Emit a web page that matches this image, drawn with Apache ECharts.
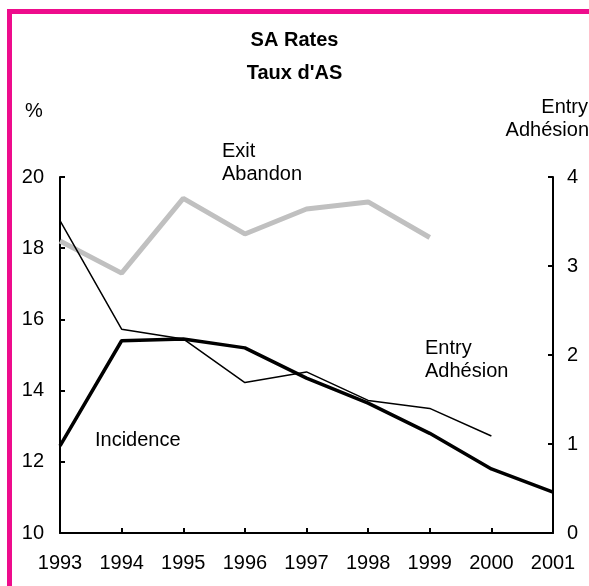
<!DOCTYPE html>
<html>
<head>
<meta charset="utf-8">
<style>
  html, body { margin: 0; padding: 0; background: #fff; }
  #chart { width: 589px; height: 586px; }
</style>
<script src="https://cdn.jsdelivr.net/npm/echarts@6/dist/echarts.min.js"></script>
</head>
<body>
<div id="chart"></div>
<script>
var years = ['1993', '1994', '1995', '1996', '1997', '1998', '1999', '2000', '2001']
// left axis, %
var exitRates = [18.2, 17.3, 19.4, 18.4, 19.1, 19.3, 18.3, null, null]
var incidence = [12.45, 15.4, 15.45, 15.2, 14.35, 13.65, 12.8, 11.8, 11.15]
// right axis
var entryRates = [3.51, 2.29, 2.18, 1.69, 1.81, 1.49, 1.4, 1.09, null]

var font = 'Liberation Sans, Arial, sans-serif'
var fs = 20
var myChart = echarts.init(document.getElementById('chart'))

function txt (text, x, y, align, bold) {
  return {
    type: 'text',
    x: x,
    y: y,
    silent: true,
    style: {
      text: text,
      font: (bold ? 'bold ' : '') + fs + 'px ' + font,
      fill: '#000',
      align: align || 'left',
      verticalAlign: 'middle'
    }
  }
}

var tickStyle = { show: true, inside: true, length: 5, lineStyle: { color: '#000', width: 2 } }
var lineAxis = { show: true, lineStyle: { color: '#000', width: 2 } }

var option = {
  backgroundColor: '#fff',
  animation: false,
  grid: { left: 60, right: 36, top: 177, bottom: 53 },
  xAxis: {
    type: 'category',
    data: years,
    boundaryGap: false,
    axisLine: lineAxis,
    axisTick: tickStyle,
    axisLabel: { color: '#000', fontSize: fs, fontFamily: font, margin: 20, interval: 0 }
  },
  yAxis: [
    {
      type: 'value', min: 10, max: 20, interval: 2, position: 'left',
      axisLine: lineAxis, axisTick: tickStyle, splitLine: { show: false },
      axisLabel: { color: '#000', fontSize: fs, fontFamily: font, margin: 16 }
    },
    {
      type: 'value', min: 0, max: 4, interval: 1, position: 'right',
      axisLine: lineAxis, axisTick: tickStyle, splitLine: { show: false },
      axisLabel: { color: '#000', fontSize: fs, fontFamily: font, margin: 14 }
    }
  ],
  series: [
    {
      name: 'Exit',
      type: 'line',
      yAxisIndex: 0,
      data: exitRates,
      symbol: 'none',
      lineStyle: { color: '#c0c0c0', width: 5 }
    },
    {
      name: 'Entry',
      type: 'line',
      yAxisIndex: 1,
      data: entryRates,
      symbol: 'none',
      lineStyle: { color: '#000', width: 1.5 }
    },
    {
      name: 'Incidence',
      type: 'line',
      yAxisIndex: 0,
      data: incidence,
      symbol: 'none',
      lineStyle: { color: '#000', width: 3.5 }
    }
  ],
  graphic: [
    {
      type: 'rect',
      shape: { x: 9.5, y: 11.5, width: 700, height: 700 },
      style: { fill: 'none', stroke: '#ee0c8c', lineWidth: 5 },
      silent: true
    },
    txt('SA Rates', 294.5, 40, 'center', true),
    txt("Taux d'AS", 294.5, 73, 'center', true),
    txt('%', 25, 111),
    txt('Entry', 588, 107, 'right'),
    txt('Adhésion', 589, 130, 'right'),
    txt('Exit', 222, 151),
    txt('Abandon', 222, 174),
    txt('Incidence', 95, 440),
    txt('Entry', 425, 348),
    txt('Adhésion', 425, 371)
  ]
}

option && myChart.setOption(option)
</script>
</body>
</html>
